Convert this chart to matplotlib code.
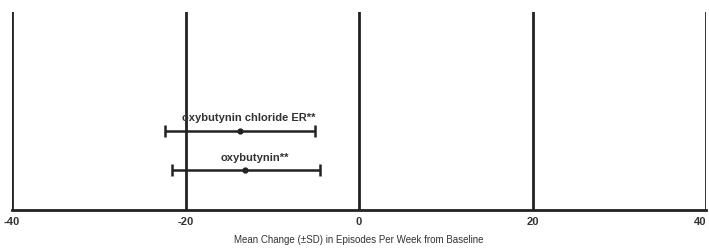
import matplotlib.pyplot as plt

treatments = ["oxybutynin**", "oxybutynin chloride ER**"]
mean_change = [-13.1, -13.7]
lower = [-21.6, -22.4]
upper = [-4.5, -5.1]
grid_ticks = [-40, -20, 0, 20, 40]

plt.rcParams['font.family'] = ['Liberation Sans Narrow', 'Liberation Sans', 'DejaVu Sans']

fig = plt.figure(figsize=(7.09, 2.51), dpi=100)
ax = fig.add_axes([12 / 709, 40 / 251, 694 / 709, 198 / 251])

for xv in grid_ticks:
    ax.axvline(xv, color='#222222', lw=2.0, zorder=1)

ypos = [1, 2]
for y, m, lo, hi, name in zip(ypos, mean_change, lower, upper, treatments):
    ax.errorbar([m], [y], xerr=[[m - lo], [hi - m]], fmt='o', color='#222222',
                ms=3.5, lw=1.8, capsize=4, capthick=1.8, zorder=3)
    ax.text((lo + hi) / 2 + 1, y + 0.22, name, ha='center', va='bottom',
            fontsize=8, fontweight='bold', color='#333333')

ax.set_xlim(-40, 40)
ax.set_ylim(0, 5)
ax.set_xticks(grid_ticks)
ax.set_xticklabels([str(t) for t in grid_ticks], fontsize=8, fontweight='bold', color='#333333')
# last label sits at the right edge, keep it inside the figure
ax.get_xticklabels()[-1].set_horizontalalignment('right')
ax.set_yticks([])
for s in ['top', 'left', 'right']:
    ax.spines[s].set_visible(False)
ax.spines['bottom'].set_linewidth(2.0)
ax.spines['bottom'].set_color('#222222')
ax.tick_params(axis='x', length=0, pad=4)
ax.set_xlabel("Mean Change (\u00b1SD) in Episodes Per Week from Baseline", fontsize=7,
              color='#333333', labelpad=6)

fig.savefig("out.png", dpi=100)
